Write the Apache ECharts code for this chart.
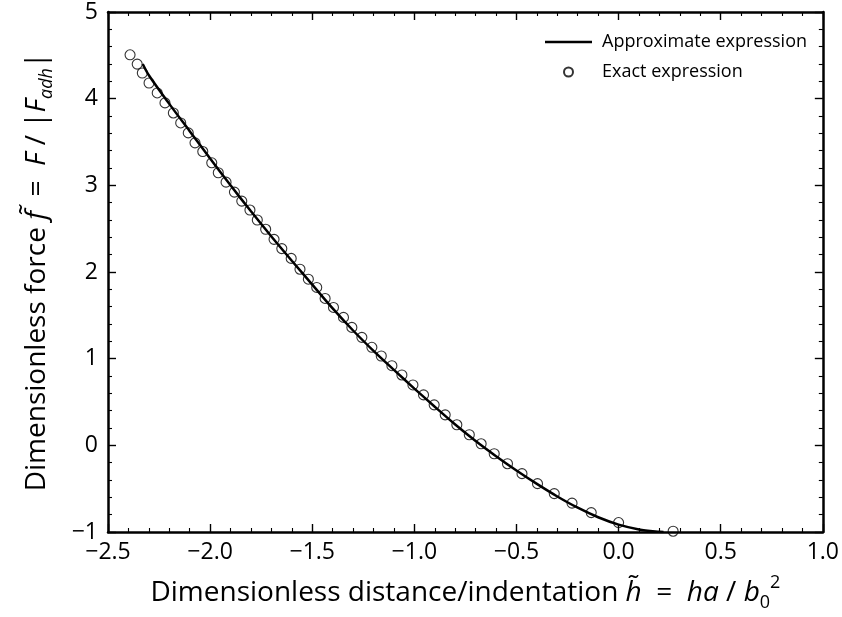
<!DOCTYPE html>
<html>
<head>
<meta charset="utf-8">
<script src="https://cdn.jsdelivr.net/npm/echarts@6/dist/echarts.min.js"></script>
<style>
  html, body { margin: 0; padding: 0; background: #fff; }
  #chart { width: 842px; height: 617px; }
</style>
</head>
<body>
<div id="chart"></div>
<script>
// Approximate force–distance expression (solid curve)
const approxH = [-2.33, -2.3, -2.2, -2.1, -2.0, -1.9, -1.8, -1.7, -1.6, -1.5, -1.4, -1.3, -1.2, -1.1,
                 -1.0, -0.9, -0.8, -0.7, -0.6, -0.5, -0.4, -0.3, -0.2, -0.1, 0.0, 0.1, 0.2, 0.22];
const approxF = [4.40, 4.27, 3.94, 3.625, 3.31, 3.0, 2.70, 2.41, 2.13, 1.855, 1.58, 1.325, 1.09, 0.87,
                 0.655, 0.445, 0.24, 0.05, -0.125, -0.29, -0.445, -0.59, -0.72, -0.83, -0.915, -0.97, -0.998, -1.0];

// Exact expression (open circles)
const exactH = [-2.392, -2.357, -2.332, -2.299, -2.259, -2.221, -2.180, -2.144, -2.107, -2.074,
                -2.036, -1.992, -1.960, -1.922, -1.881, -1.845, -1.805, -1.769, -1.728, -1.687,
                -1.649, -1.603, -1.560, -1.519, -1.478, -1.437, -1.396, -1.347, -1.306, -1.257,
                -1.208, -1.162, -1.110, -1.061, -1.007, -0.955, -0.903, -0.849, -0.792, -0.731,
                -0.673, -0.609, -0.544, -0.473, -0.397, -0.315, -0.228, -0.134, 0.000, 0.267];
const exactF = [4.506, 4.399, 4.296, 4.181, 4.066, 3.951, 3.835, 3.720, 3.605, 3.490,
                3.390, 3.260, 3.145, 3.037, 2.922, 2.818, 2.715, 2.600, 2.493, 2.377,
                2.270, 2.157, 2.032, 1.917, 1.822, 1.695, 1.591, 1.476, 1.361, 1.246,
                1.131, 1.031, 0.919, 0.812, 0.697, 0.582, 0.467, 0.352, 0.237, 0.122,
                0.018, -0.097, -0.212, -0.327, -0.442, -0.557, -0.667, -0.776, -0.891, -0.991];

const seriesNames = ['Approximate expression', 'Exact expression'];
const xRange = { min: -2.5, max: 1.0, step: 0.5 };
const yRange = { min: -1, max: 5, step: 1 };

const FONT = 'Open Sans';
const minus = s => String(s).replace('-', '\u2212');

const frame = { show: true, onZero: false, lineStyle: { color: '#000', width: 2.5 } };
const majorTick = { show: true, inside: true, length: 8, lineStyle: { color: '#000', width: 1.4 } };
const minorTick = n => ({ show: true, splitNumber: n, length: 4, lineStyle: { color: '#000', width: 1.1 } });

const NAME_SIZE = 28;
const mathRich = {
  i: { fontStyle: 'italic', fontSize: NAME_SIZE, fontFamily: FONT, color: '#000', lineHeight: 38 },
  sub: { fontStyle: 'italic', fontSize: 18, fontFamily: FONT, color: '#000', lineHeight: 18, verticalAlign: 'bottom' },
  sup: { fontSize: 18, fontFamily: FONT, color: '#000', lineHeight: 18, verticalAlign: 'top' },
  n: { fontSize: 18, fontFamily: FONT, color: '#000', lineHeight: 18, verticalAlign: 'bottom' }
};

const chart = echarts.init(document.getElementById('chart'), null, { renderer: 'canvas' });
chart.setOption({
  animation: false,
  backgroundColor: '#fff',
  grid: { left: 108, right: 18, top: 12, bottom: 83.5, containLabel: false },
  legend: {
    data: [
      { name: seriesNames[0], icon: 'path://M0,0 L100,0 L100,5.5 L0,5.5 Z' },
      { name: seriesNames[1], icon: 'circle' }
    ],
    orient: 'vertical',
    top: 28,
    left: 540,
    itemWidth: 47,
    itemHeight: 9,
    itemGap: 12,
    textStyle: { fontFamily: FONT, fontSize: 18, color: '#000', padding: [0, 0, 0, 5] }
  },
  xAxis: [
    {
      type: 'value', position: 'bottom',
      min: xRange.min, max: xRange.max, interval: xRange.step,
      axisLine: frame, axisTick: majorTick, minorTick: minorTick(5),
      splitLine: { show: false },
      axisLabel: {
        margin: 9, fontFamily: FONT, fontSize: 23, color: '#000',
        formatter: v => minus(v.toFixed(1))
      },
      name: 'Dimensionless distance/indentation {i|h\u0303}  =  {i|ha} / {i|b}{n|0}{sup|2}',
      nameLocation: 'middle', nameGap: 42,
      nameTextStyle: { fontFamily: FONT, fontSize: NAME_SIZE, color: '#000', lineHeight: 38, rich: mathRich }
    },
    {
      type: 'value', position: 'top',
      min: xRange.min, max: xRange.max, interval: xRange.step,
      axisLine: frame, axisTick: majorTick, minorTick: minorTick(5),
      splitLine: { show: false }, axisLabel: { show: false }
    }
  ],
  yAxis: [
    {
      type: 'value', position: 'left',
      min: yRange.min, max: yRange.max, interval: yRange.step,
      axisLine: frame, axisTick: majorTick, minorTick: minorTick(5),
      splitLine: { show: false },
      axisLabel: {
        margin: 10, fontFamily: FONT, fontSize: 23, color: '#000',
        formatter: v => minus(v)
      },
      name: 'Dimensionless force {i|f\u0303}  =  {i|F} / |{i|F}{sub|adh}|',
      nameLocation: 'middle', nameGap: 52, nameRotate: 90,
      nameTextStyle: { fontFamily: FONT, fontSize: NAME_SIZE, color: '#000', lineHeight: 38, rich: mathRich }
    },
    {
      type: 'value', position: 'right',
      min: yRange.min, max: yRange.max, interval: yRange.step,
      axisLine: frame, axisTick: majorTick, minorTick: minorTick(5),
      splitLine: { show: false }, axisLabel: { show: false }
    }
  ],
  series: [
    {
      name: seriesNames[0],
      type: 'line',
      data: approxH.map((h, k) => [h, approxF[k]]),
      symbol: 'none',
      smooth: 0.3,
      lineStyle: { color: '#000', width: 2.5 },
      itemStyle: { color: '#000' },
      z: 3
    },
    {
      name: seriesNames[1],
      type: 'scatter',
      data: exactH.map((h, k) => [h, exactF[k]]),
      symbol: 'circle',
      symbolSize: 10,
      itemStyle: { color: 'rgba(255,255,255,0)', borderColor: '#000', borderWidth: 1.1 },
      z: 4
    }
  ]
});
</script>
</body>
</html>
